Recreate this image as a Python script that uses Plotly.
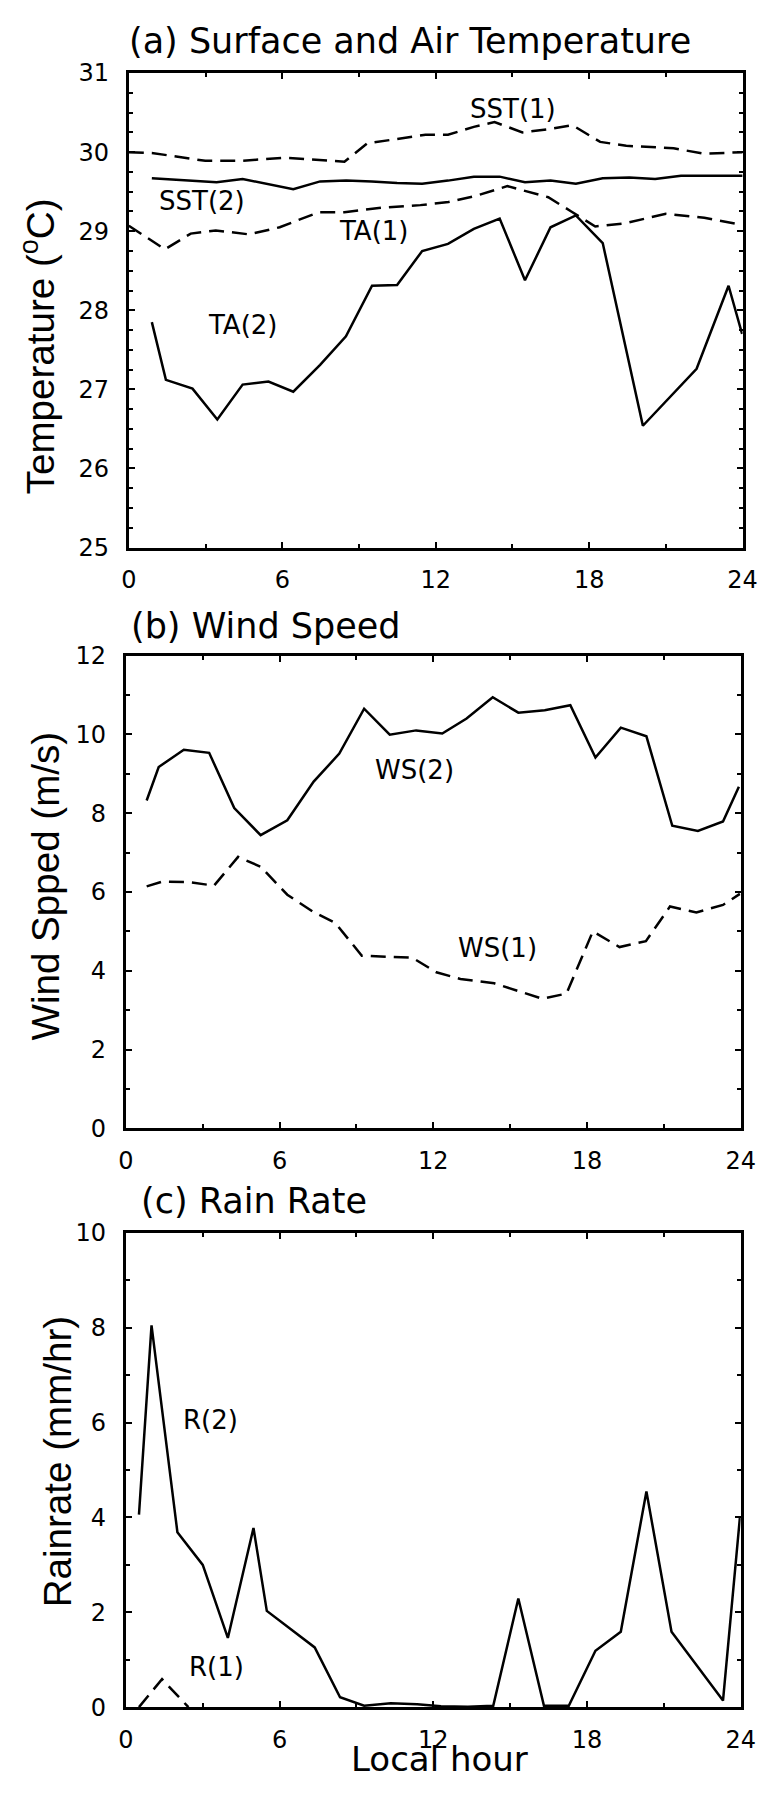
import plotly.graph_objects as go

W, H = 778, 1794

# ---------------- data ----------------
sst1_h = [0.0, 0.9, 2.99, 4.4, 6.1, 8.43, 9.32, 10.33, 11.6, 12.48, 13.49, 14.3, 15.39, 16.4, 17.35, 18.43, 19.45, 21.3, 22.47, 24.0]
sst1_t = [30.0, 29.99, 29.89, 29.89, 29.93, 29.88, 30.11, 30.16, 30.22, 30.22, 30.32, 30.38, 30.25, 30.29, 30.34, 30.13, 30.08, 30.05, 29.98, 30.0]

sst2_h = [0.9, 3.43, 4.45, 6.43, 7.48, 8.5, 9.5, 10.49, 11.47, 12.48, 13.49, 14.5, 15.49, 16.49, 17.48, 18.53, 19.57, 20.58, 21.59, 24.0]
sst2_t = [29.67, 29.62, 29.66, 29.53, 29.63, 29.64, 29.63, 29.61, 29.60, 29.64, 29.69, 29.69, 29.62, 29.64, 29.60, 29.67, 29.68, 29.66, 29.70, 29.70]

ta1_h = [0.0, 1.41, 2.42, 3.4, 4.7, 5.9, 7.42, 8.43, 9.95, 11.4, 12.5, 13.6, 14.8, 16.4, 17.3, 18.24, 19.4, 21.0, 22.5, 23.97]
ta1_t = [29.07, 28.77, 28.97, 29.01, 28.96, 29.05, 29.24, 29.24, 29.30, 29.33, 29.37, 29.45, 29.57, 29.43, 29.25, 29.06, 29.10, 29.22, 29.17, 29.08]

ta2_h = [0.9, 1.45, 2.49, 3.46, 4.45, 5.46, 6.43, 7.48, 8.49, 9.51, 10.49, 11.47, 12.48, 13.49, 14.5, 15.49, 16.49, 17.48, 18.53, 20.1, 22.2, 23.45, 23.98]
ta2_t = [27.85, 27.12, 27.01, 26.62, 27.06, 27.10, 26.97, 27.31, 27.67, 28.31, 28.32, 28.75, 28.84, 29.03, 29.16, 28.38, 29.05, 29.20, 28.85, 26.54, 27.26, 28.31, 27.70]

ws2_h = [0.81, 1.28, 2.26, 3.25, 4.23, 5.26, 6.3, 7.33, 8.33, 9.3, 10.3, 11.33, 12.35, 13.3, 14.32, 15.32, 16.35, 17.35, 18.33, 19.32, 20.32, 21.33, 22.33, 23.31, 23.93]
ws2_v = [8.32, 9.17, 9.61, 9.53, 8.13, 7.44, 7.82, 8.80, 9.51, 10.65, 9.99, 10.10, 10.02, 10.40, 10.94, 10.55, 10.61, 10.74, 9.41, 10.17, 9.95, 7.68, 7.55, 7.79, 8.67]

ws1_h = [0.81, 1.41, 2.44, 3.44, 4.38, 5.26, 6.3, 7.3, 8.18, 9.21, 11.18, 12.12, 13.06, 14.38, 16.26, 17.2, 18.23, 19.27, 20.3, 21.24, 22.27, 23.31, 23.97]
ws1_v = [6.14, 6.26, 6.25, 6.16, 6.89, 6.64, 5.93, 5.50, 5.21, 4.38, 4.33, 3.96, 3.79, 3.68, 3.29, 3.42, 5.00, 4.60, 4.75, 5.63, 5.48, 5.67, 5.95]

r2_h = [0.51, 1.0, 2.01, 3.0, 3.98, 4.98, 5.5, 7.37, 8.36, 9.3, 10.34, 11.37, 12.3, 13.35, 14.34, 15.32, 16.32, 17.29, 18.33, 19.32, 20.32, 21.3, 23.31, 23.97]
r2_v = [4.06, 8.05, 3.69, 3.00, 1.46, 3.78, 2.03, 1.26, 0.21, 0.03, 0.08, 0.06, 0.02, 0.01, 0.03, 2.29, 0.03, 0.03, 1.19, 1.59, 4.55, 1.59, 0.14, 4.00]

r1_h = [0.51, 1.41, 2.44]
r1_v = [0.0, 0.59, 0.0]

hour_ticks = [0, 6, 12, 18, 24]
hour_minor = [3, 9, 15, 21]

# ---------------- layout helpers ----------------
def px_x(p):
    return p / W

def px_y(p):
    return 1 - p / H

TICKFONT = dict(family="DejaVu Sans", size=24, color="black")
HFONT = "DejaVu Sans"
VFONT = "Liberation Sans, Arial"

solid = dict(color="black", width=2.5)
dashed = dict(color="black", width=2.5, dash="15px,8px")

fig = go.Figure()

def add(x, y, line, ax):
    fig.add_trace(go.Scatter(x=x, y=y, mode="lines", line=line,
                             xaxis="x" + ax, yaxis="y" + ax,
                             showlegend=False, hoverinfo="skip"))

add(sst1_h, sst1_t, dashed, "")
add(sst2_h, sst2_t, solid, "")
add(ta1_h, ta1_t, dashed, "")
add(ta2_h, ta2_t, solid, "")
add(ws2_h, ws2_v, solid, "2")
add(ws1_h, ws1_v, dashed, "2")
add(r2_h, r2_v, solid, "3")
add(r1_h, r1_v, dashed, "3")

def xax(dom, anchor):
    return dict(domain=dom, anchor=anchor, range=[0, 24], tickmode="array",
                tickvals=hour_ticks, ticktext=[str(v) for v in hour_ticks],
                ticks="inside", ticklen=6, tickwidth=2, tickcolor="black",
                showline=True, linewidth=3, linecolor="black", mirror="ticks",
                showgrid=False, zeroline=False, tickfont=TICKFONT,
                ticklabelstandoff=9,
                minor=dict(tickmode="array", tickvals=hour_minor, ticks="inside",
                           ticklen=4, tickwidth=2, tickcolor="black", showgrid=False))

def yax(dom, anchor, rng, dt, mdt):
    return dict(domain=dom, anchor=anchor, range=rng, tickmode="linear",
                tick0=rng[0], dtick=dt,
                ticks="inside", ticklen=6, tickwidth=2, tickcolor="black",
                showline=True, linewidth=3, linecolor="black", mirror="ticks",
                showgrid=False, zeroline=False, tickfont=TICKFONT,
                ticklabelstandoff=12,
                minor=dict(tickmode="linear", tick0=rng[0], dtick=mdt, ticks="inside",
                           ticklen=4, tickwidth=2, tickcolor="black", showgrid=False))

xa = [px_x(124.5), px_x(757)]
xb = [px_x(121.5), px_x(755)]

fig.update_layout(
    width=W, height=H, margin=dict(l=0, r=0, t=0, b=0),
    paper_bgcolor="white", plot_bgcolor="white",
    xaxis=xax(xa, "y"),
    yaxis=yax([px_y(542), px_y(60)], "x", [25, 31], 1, 0.25),
    xaxis2=xax(xb, "y2"),
    yaxis2=yax([px_y(1132), px_y(651.7)], "x2", [0, 12], 2, 1),
    xaxis3=xax(xb, "y3"),
    yaxis3=yax([px_y(1720), px_y(1238.3)], "x3", [0, 10], 2, 1),
)

ann = []
# panel titles
for txt, x, y in [("(a) Surface and Air Temperature", 123, 27.5),
                  ("(b) Wind Speed", 125, 621.5),
                  ("(c) Rain Rate", 135, 1206)]:
    ann.append(dict(text=txt, x=px_x(x), y=px_y(y), xref="paper", yref="paper",
                    xanchor="left", yanchor="middle", showarrow=False,
                    font=dict(family=HFONT, size=35, color="black")))
# y-axis titles (rotated)
for txt, x, y in [("Temperature (<sup>o</sup>C)", 30.5, 338),
                  ("Wind Spped (m/s)", 38.5, 886),
                  ("Rainrate (mm/hr)", 50.8, 1470)]:
    ann.append(dict(text=txt, x=px_x(x), y=px_y(y), xref="paper", yref="paper",
                    xanchor="center", yanchor="middle", showarrow=False, textangle=-90,
                    font=dict(family=VFONT, size=38.6, color="black")))
# x-axis title
ann.append(dict(text="Local hour", x=px_x(445), y=0, xref="paper", yref="paper",
                xanchor="center", yanchor="bottom", showarrow=False, borderpad=0,
                font=dict(family=HFONT, size=34, color="black")))
# series labels
series_labels = [("SST(1)", 15.01, 30.54, ""), ("SST(2)", 2.87, 29.38, ""),
                 ("TA(1)", 9.57, 29.0, ""), ("TA(2)", 4.45, 27.82, ""),
                 ("WS(2)", 11.27, 9.09, "2"), ("WS(1)", 14.52, 4.57, "2"),
                 ("R(2)", 3.29, 6.06, "3"), ("R(1)", 3.53, 0.85, "3")]
for txt, x, y, ax in series_labels:
    ann.append(dict(text=txt, x=x, y=y, xref="x" + ax, yref="y" + ax,
                    xanchor="center", yanchor="middle", showarrow=False,
                    font=dict(family=HFONT, size=26, color="black")))

fig.update_layout(annotations=ann)
fig.write_html("out.html")
